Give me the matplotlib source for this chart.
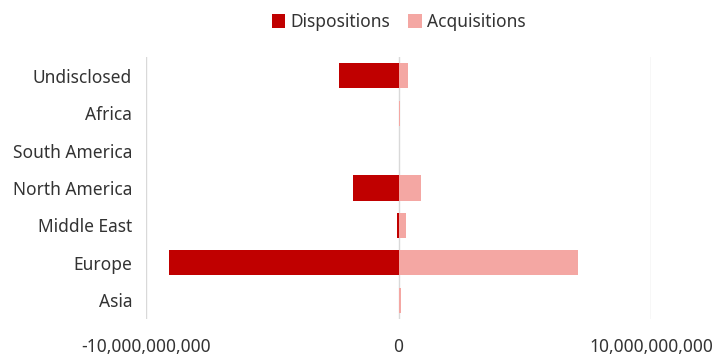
import numpy as np
import matplotlib.pyplot as plt
from matplotlib.ticker import FuncFormatter

plt.rcParams['font.family'] = ['Noto Sans', 'DejaVu Sans']

regions = ['Undisclosed', 'Africa', 'South America', 'North America',
           'Middle East', 'Europe', 'Asia']
dispositions = [-2.36e9, 0, 0, -1.81e9, -0.07e9, -9.07e9, 0]
acquisitions = [0.37e9, 0.05e9, 0, 0.91e9, 0.28e9, 7.12e9, 0.08e9]

text_color = '#333333'
fig = plt.figure(figsize=(7.12, 3.56), dpi=100)
ax = fig.add_axes([146 / 712, 1 - 319 / 356, (651 - 146) / 712, (319 - 57) / 356])

y = np.arange(len(regions))[::-1]
ax.barh(y, dispositions, height=0.67, color='#C00000', label='Dispositions', zorder=3)
ax.barh(y, acquisitions, height=0.67, color='#F4A7A3', label='Acquisitions', zorder=3)

ax.set_xlim(-10e9, 10e9)
ax.set_ylim(-0.5, len(regions) - 0.5)
ax.set_xticks([-10e9, 0, 10e9])
ax.xaxis.set_major_formatter(FuncFormatter(lambda v, p: '{:,}'.format(int(v))))
ax.set_yticks(y)
ax.set_yticklabels(regions)
ax.grid(axis='x', color='#D9D9D9', linewidth=1, zorder=0)
for s in ax.spines.values():
    s.set_visible(False)
ax.tick_params(axis='both', length=0, labelsize=12.5, labelcolor=text_color)
ax.tick_params(axis='x', pad=14)
ax.tick_params(axis='y', pad=10)

ax.legend(loc='center', bbox_to_anchor=(0.5, 1 + (57 - 22) / 262), ncol=2,
          frameon=False, fontsize=12.5, handlelength=0.8, handleheight=0.8,
          handletextpad=0.3, columnspacing=1.0, labelcolor=text_color)

fig.savefig('out.png', dpi=100)
